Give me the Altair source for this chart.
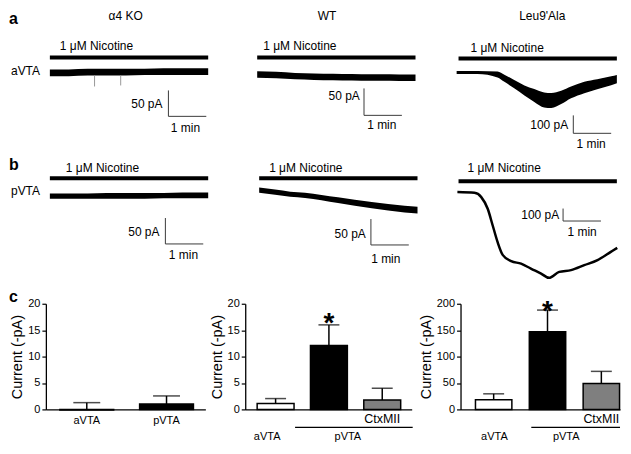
import altair as alt
import pandas as pd

FONT = "Liberation Sans"

# ---------------- data ----------------
NIC_END = 4.18  # min, end of the 1 uM nicotine application bar

# (a) aVTA recordings: time (min) and lower/upper edge of the noisy current trace (pA)
ko_a_t = [0, 0.5, 1, 1.5, 2, 2.5, 3, 3.5, 4, 4.18]
ko_a_lo = [-7, -7, -6, -6, -6, -5, -5, -5, -5, -5]
ko_a_hi = [6, 6, 7, 7, 7, 7, 8, 8, 8, 8]
ko_a_spike_t = [1.18, 1.87]
ko_a_spike_lo = [-27, -25]

wt_a_t = [0, 0.5, 1, 1.5, 2, 2.5, 3, 3.5, 4, 4.18]
wt_a_lo = [-6, -7, -9, -10, -10.5, -11, -11.5, -11.5, -12, -12]
wt_a_hi = [6, 5, 3, 2, 1.5, 1, 0.5, 0.5, 0, 0]

leu_a_t = [-0.05, 0.5, 1.03, 1.21, 1.47, 1.74, 2.0, 2.26, 2.45, 2.71, 2.97, 3.32, 3.66, 4.03, 4.18]
leu_a_lo = [-9, -9, -28, -52, -88, -128, -164, -195, -198, -176, -144, -115, -93, -71, -60]
leu_a_hi = [9, 9, 6, -12, -42, -72, -92, -111, -114, -102, -78, -51, -37, -21, -14]

# (b) pVTA recordings
ko_b_t = [0, 0.5, 1, 1.5, 2, 2.5, 3, 3.5, 4, 4.18]
ko_b_lo = [-5, -5, -5, -5, -5, -5, -4, -4, -4, -4]
ko_b_hi = [5, 5, 5, 6, 6, 6, 6, 7, 7, 7]

wt_b_t = [0, 0.42, 0.82, 1.21, 2.08, 2.97, 3.84, 4.18]
wt_b_lo = [-5, -9, -13, -15, -25, -35, -43, -45]
wt_b_hi = [5, 1, -3, -5, -14, -23, -30, -32]

leu_b_t = [-0.03, 0.42, 0.60, 0.77, 0.90, 1.03, 1.17, 1.39, 1.65, 1.91, 2.18, 2.39,
           2.66, 2.97, 3.32, 3.67, 4.02, 4.19]
leu_b_i = [0, -6, -40, -134, -266, -400, -506, -554, -574, -614, -654, -688,
           -640, -626, -586, -546, -480, -448]

# (c) mean current (-pA) and SEM
groups_ko = ["aVTA", "pVTA"]
groups = ["aVTA", "pVTA", "CtxMII"]
ko_mean = [-0.1, 1.0]
ko_sem = [1.38, 1.55]
wt_mean = [1.1, 12.1, 1.8]
wt_sem = [0.95, 3.9, 2.2]
leu_mean = [18.5, 147, 49]
leu_sem = [11, 41, 23]
fills_ko = ["white", "black"]
fills = ["white", "black", "#7f7f7f"]


# ---------------- helpers ----------------
def make_scales(W, H, t0px, base_px, ppa, ppm=38.0):
    xs = alt.Scale(domain=[-t0px / ppm, (W - t0px) / ppm], nice=False, zero=False)
    ys = alt.Scale(domain=[-(H - base_px) / ppa, base_px / ppa], nice=False, zero=False)
    return xs, ys


def band_layer(t, lo, hi, xs, ys):
    df = pd.DataFrame({"t": t, "lo": lo, "hi": hi})
    return alt.Chart(df).mark_area(color="black", interpolate="monotone").encode(
        x=alt.X("t:Q", scale=xs, axis=None),
        y=alt.Y("lo:Q", scale=ys, axis=None),
        y2="hi:Q",
    )


def line_layer(t, i, xs, ys, w=2.5):
    df = pd.DataFrame({"t": t, "i": i})
    return alt.Chart(df).mark_line(color="black", strokeWidth=w, interpolate="monotone").encode(
        x=alt.X("t:Q", scale=xs, axis=None),
        y=alt.Y("i:Q", scale=ys, axis=None),
    )


def spike_layer(t, lo, top, xs, ys):
    df = pd.DataFrame({"t": t, "lo": lo, "top": [top] * len(t)})
    return alt.Chart(df).mark_rule(color="#999999", strokeWidth=1).encode(
        x=alt.X("t:Q", scale=xs, axis=None),
        y=alt.Y("lo:Q", scale=ys, axis=None),
        y2="top:Q",
    )


def nic_layer(level, xs, ys):
    df = pd.DataFrame({"s": [0.0], "e": [NIC_END], "lvl": [level]})
    return alt.Chart(df).mark_rule(color="black", strokeWidth=4).encode(
        x=alt.X("s:Q", scale=xs, axis=None), x2="e:Q",
        y=alt.Y("lvl:Q", scale=ys, axis=None),
    )


def scalebar_layer(t, i, S, xs, ys):
    df = pd.DataFrame({"x1": [t, t], "x2": [t, t + 1.0], "y1": [i, i], "y2": [i + S, i]})
    return alt.Chart(df).mark_rule(color="#3a3a3a", strokeWidth=1).encode(
        x=alt.X("x1:Q", scale=xs, axis=None), x2="x2:Q",
        y=alt.Y("y1:Q", scale=ys, axis=None), y2="y2:Q",
    )


def txt(s, x, y, size=12, align="left", weight="normal", baseline="middle"):
    return alt.Chart(pd.DataFrame({"s": [s]})).mark_text(
        font=FONT, fontSize=size, fontWeight=weight, align=align,
        baseline=baseline, color="black",
    ).encode(x=alt.value(x), y=alt.value(y), text="s:N")


NIC = "1 μM Nicotine"
HA = 142
HB = 151
HC = 106
W1, W2, W3 = 200, 216, 160   # column widths, identical in every row

# ---------------- row a ----------------
xs, ys = make_scales(W1, HA, 4, 61, 0.52)
a1 = alt.layer(
    band_layer(ko_a_t, ko_a_lo, ko_a_hi, xs, ys),
    spike_layer(ko_a_spike_t, ko_a_spike_lo, -6, xs, ys),
    nic_layer(28.8, xs, ys),
    scalebar_layer(3.13, -84.6, 50, xs, ys),
    txt("a", -37, -1, 16, weight="bold", baseline="top"),
    txt("α4 KO", 80, 4, 12, align="center"),
    txt(NIC, 14, 34),
    txt("aVTA", -35, 60),
    txt("50 pA", 117, 93, align="right"),
    txt("1 min", 140, 117, align="center"),
).properties(width=W1, height=HA)

xs, ys = make_scales(W2, HA, 12, 63, 0.54)
a2 = alt.layer(
    band_layer(wt_a_t, wt_a_lo, wt_a_hi, xs, ys),
    nic_layer(31.5, xs, ys),
    scalebar_layer(2.82, -75.9, 50, xs, ys),
    txt("WT", 82, 4, 12, align="center"),
    txt(NIC, 18, 34),
    txt("50 pA", 115, 85, align="right"),
    txt("1 min", 137, 114, align="center"),
).properties(width=W2, height=HA)

xs, ys = make_scales(W3, HA, -2, 61, 0.18)
a3 = alt.layer(
    band_layer(leu_a_t, leu_a_lo, leu_a_hi, xs, ys),
    nic_layer(77.8, xs, ys),
    scalebar_layer(3.03, -339, 100, xs, ys),
    txt("Leu9'Ala", 82, 4, 12, align="center"),
    txt(NIC, 10, 36),
    txt("100 pA", 108, 114, align="right"),
    txt("1 min", 131, 133, align="center"),
).properties(width=W3, height=HA)

# ---------------- row b ----------------
xs, ys = make_scales(W1, HB, 4, 43, 0.52)
b1 = alt.layer(
    band_layer(ko_b_t, ko_b_lo, ko_b_hi, xs, ys),
    nic_layer(34.6, xs, ys),
    scalebar_layer(3.05, -92.3, 50, xs, ys),
    txt("b", -37, 4, 16, weight="bold", baseline="top"),
    txt("c", -37, 149, 16, weight="bold", baseline="alphabetic"),
    txt(NIC, 20, 15),
    txt("pVTA", -35, 38),
    txt("50 pA", 114, 79, align="right"),
    txt("1 min", 138, 102, align="center"),
).properties(width=W1, height=HB)

xs, ys = make_scales(W2, HB, 14, 37, 0.52)
b2 = alt.layer(
    band_layer(wt_b_t, wt_b_lo, wt_b_hi, xs, ys),
    nic_layer(23.1, xs, ys),
    scalebar_layer(2.95, -105.8, 50, xs, ys),
    txt(NIC, 24, 15),
    txt("50 pA", 121, 81, align="right"),
    txt("1 min", 141, 106, align="center"),
).properties(width=W2, height=HB)

xs, ys = make_scales(W3, HB, -2, 39, 0.125)
b3 = alt.layer(
    line_layer(leu_b_t, leu_b_i, xs, ys),
    nic_layer(88, xs, ys),
    scalebar_layer(2.76, -232, 100, xs, ys),
    txt(NIC, 7, 15),
    txt("100 pA", 99, 62, align="right"),
    txt("1 min", 122, 79, align="center"),
).properties(width=W3, height=HB)


# ---------------- row c ----------------
def bar_panel(W, span, cats, means, sems, fill, ydom, yvals, pi, po, al, cap, extra):
    df = pd.DataFrame({"cat": cats, "mean": means, "sem": sems, "fill": fill})
    xenc = alt.X(
        "cat:N",
        scale=alt.Scale(domain=cats, range=[0, span], paddingInner=pi,
                        paddingOuter=po, align=al),
        axis=alt.Axis(title=None, labels=False, ticks=False, domainColor="black",
                      domainWidth=1.3),
    )
    yax = alt.Axis(
        values=yvals, title="Current (-pA)", titleFont=FONT, titleFontSize=14.5,
        titleFontWeight="normal", titleColor="black", titlePadding=3,
        labelFont=FONT, labelFontSize=11, labelColor="black", labelPadding=2,
        tickSize=4, tickColor="black", tickWidth=1.2, domainColor="black",
        domainWidth=1.3, grid=False,
    )
    ysc = alt.Scale(domain=ydom, nice=False)
    base = alt.Chart(df).transform_calculate(top="datum.mean + datum.sem")
    bars = base.mark_bar(stroke="black", strokeWidth=1.5).encode(
        x=xenc, y=alt.Y("mean:Q", scale=ysc, axis=yax),
        color=alt.Color("fill:N", scale=None),
    )
    err = base.mark_rule(color="black", strokeWidth=1.5).encode(
        x=xenc, y=alt.Y("mean:Q", scale=ysc, axis=yax), y2="top:Q",
    )
    caps = base.mark_tick(color="black", thickness=1.5, size=cap).encode(
        x=xenc, y=alt.Y("top:Q", scale=ysc, axis=yax),
    )
    layers = [bars, err, caps]
    for kind, args in extra:
        if kind == "cattext":
            s, cat, y, size = args
            layers.append(
                alt.Chart(pd.DataFrame({"cat": [cat], "s": [s]})).mark_text(
                    font=FONT, fontSize=size, align="center", baseline="middle",
                    color="black").encode(x=xenc, y=alt.value(y), text="s:N"))
        elif kind == "star":
            cat, y = args
            layers.append(
                alt.Chart(pd.DataFrame({"cat": [cat], "s": ["*"]})).mark_text(
                    font=FONT, fontSize=28, fontWeight="bold", align="center",
                    baseline="alphabetic", color="black").encode(
                    x=xenc, y=alt.value(y), text="s:N"))
        elif kind == "text":
            layers.append(txt(*args))
        elif kind == "line":
            x1, x2, y = args
            layers.append(
                alt.Chart(pd.DataFrame({"k": [0]})).mark_rule(color="black", strokeWidth=1.2)
                .encode(x=alt.value(x1), x2=alt.value(x2), y=alt.value(y)))
    return alt.layer(*layers).properties(width=W, height=HC)


c1 = bar_panel(
    W1, 160, groups_ko, ko_mean, ko_sem, fills_ko, [0, 20], [0, 5, 10, 15, 20],
    0.325, 0.1625, 0.54, 27,
    [("cattext", ("aVTA", "aVTA", HC + 12, 11)), ("cattext", ("pVTA", "pVTA", HC + 12, 11))],
)
c2 = bar_panel(
    W2, 167, groups, wt_mean, wt_sem, fills, [0, 20], [0, 5, 10, 15, 20],
    0.308, 0.215, 0.52, 21,
    [("star", ("pVTA", 28)), ("cattext", ("CtxMII", "CtxMII", HC + 10, 12.5)),
     ("line", (50, 168, HC + 18)),
     ("text", ("aVTA", 22, HC + 28, 11, "center")),
     ("text", ("pVTA", 103, HC + 28, 11, "center"))],
)
c3 = bar_panel(
    W3, 160, groups, leu_mean, leu_sem, fills, [0, 200], [0, 50, 100, 150, 200],
    0.324, 0.143, 0.97, 21,
    [("star", ("pVTA", 16)), ("cattext", ("CtxMII", "CtxMII", HC + 10, 12.5)),
     ("line", (71, 160, HC + 18)),
     ("text", ("aVTA", 34, HC + 28, 11, "center")),
     ("text", ("pVTA", 106, HC + 28, 11, "center"))],
)

chart = (
    alt.concat(a1, a2, a3, b1, b2, b3, c1, c2, c3, columns=3, spacing=0,
               bounds="flush", align="none")
    .properties(padding=0, background="white")
    .configure_view(stroke="transparent")
)

chart.save("out.html", embed_options={"renderer": "svg", "actions": False})
